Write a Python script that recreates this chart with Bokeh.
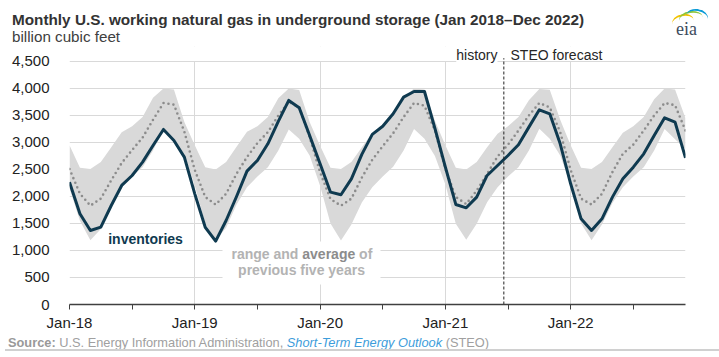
from bokeh.plotting import figure
from bokeh.layouts import column
from bokeh.models import Range1d, FixedTicker, NumeralTickFormatter, Label, BoxAnnotation, Div
from bokeh.embed import file_html
from bokeh.resources import INLINE

# month index: 0 = Jan-2018 ... 59 = Dec-2022
months = list(range(60))
tick_months = [0, 12, 24, 36, 48]
tick_labels = ["Jan-18", "Jan-19", "Jan-20", "Jan-21", "Jan-22"]
minor_months = [6, 18, 30, 42, 54]
y_ticks = [0, 500, 1000, 1500, 2000, 2500, 3000, 3500, 4000, 4500]
forecast_start = 41.6

inventories = [
    2265, 1679, 1370, 1432, 1833, 2204, 2389, 2636, 2944, 3241, 3037, 2728,
    2049, 1430, 1173, 1555, 2000, 2469, 2667, 2975, 3390, 3778, 3642, 3130,
    2605, 2080, 2031, 2327, 2780, 3150, 3300, 3531, 3840, 3944, 3944, 3260,
    2543, 1852, 1790, 1988, 2389, 2574, 2759, 2957, 3284, 3605, 3531, 2975,
    2235, 1586, 1370, 1586, 1988, 2327, 2543, 2790, 3130, 3457, 3377, 2716,
]
avg5 = [
    2510, 2050, 1830, 1960, 2300, 2620, 2860, 3090, 3420, 3730, 3700, 3200,
    2490, 1990, 1850, 2050, 2420, 2730, 2990, 3190, 3500, 3750, 3650, 3100,
    2450, 1950, 1830, 1960, 2350, 2680, 2930, 3170, 3470, 3730, 3680, 3220,
    2510, 1990, 1860, 2110, 2420, 2740, 2960, 3220, 3500, 3730, 3650, 3190,
    2490, 1960, 1850, 2050, 2450, 2790, 2960, 3220, 3500, 3730, 3690, 3220,
]
range_high = [
    2950, 2530, 2510, 2640, 2910, 3190, 3300, 3470, 3830, 4000, 3980, 3380,
    2950, 2540, 2500, 2640, 2920, 3200, 3300, 3470, 3820, 4000, 3970, 3380,
    2940, 2530, 2510, 2640, 2910, 3180, 3310, 3480, 3830, 4000, 3980, 3400,
    2950, 2530, 2500, 2640, 2910, 3160, 3300, 3470, 3780, 3990, 3975, 3420,
    2950, 2530, 2510, 2640, 2910, 3180, 3300, 3470, 3800, 4000, 3980, 3450,
]
range_low = [
    2150, 1550, 1190, 1400, 1800, 2180, 2380, 2540, 2850, 3240, 3060, 2780,
    2200, 1500, 1190, 1420, 1850, 2170, 2370, 2540, 2850, 3240, 3070, 2760,
    2200, 1500, 1185, 1480, 1890, 2170, 2370, 2550, 2850, 3250, 3070, 2750,
    2220, 1494, 1198, 1494, 1895, 2173, 2370, 2543, 2852, 3253, 3068, 2760,
    2220, 1500, 1190, 1480, 1880, 2170, 2370, 2540, 2850, 3250, 3060, 2880,
]

FONT = "Liberation Sans"
CSS_FONT = "'Liberation Sans', Arial, sans-serif"
NAVY = "#0f3a50"
Y_TOP = 4500 * 259 / 244   # head-room above the 4,500 grid line for the history/forecast labels

# ---------------- header (title, subtitle, logo) ----------------
header_html = f"""
<div style="position:relative;width:719px;height:45px;font-family:{CSS_FONT};">
  <div style="position:absolute;left:12px;top:11px;line-height:18px;font-size:15.3px;font-weight:bold;color:#333333;white-space:nowrap;">Monthly U.S. working natural gas in underground storage (Jan 2018&ndash;Dec 2022)</div>
  <div style="position:absolute;left:12px;top:28px;line-height:18px;font-size:15.2px;color:#404040;white-space:nowrap;">billion cubic feet</div>
  <div style="position:absolute;left:672px;top:14px;width:22px;height:16px;border-top:2.5px solid #f2c200;border-radius:50% 50% 0 0;transform:rotate(-12deg);"></div>
  <div style="position:absolute;left:679px;top:11px;width:24px;height:16px;border-top:2.5px solid #8cc63f;border-radius:50% 50% 0 0;transform:rotate(-8deg);"></div>
  <div style="position:absolute;left:686px;top:9px;width:22px;height:16px;border-top:2.5px solid #0a9bd7;border-radius:50% 50% 0 0;transform:rotate(10deg);"></div>
  <div style="position:absolute;left:676px;top:19px;line-height:20px;font-size:18px;font-family:'Liberation Serif',serif;color:#3d4b5c;">eia</div>
</div>
"""
header = Div(text=header_html, width=719, height=45, margin=0)

# ---------------- chart ----------------
p = figure(width=719, height=288, output_backend="svg", toolbar_location=None,
           x_range=Range1d(0, 59), y_range=Range1d(0, Y_TOP),
           min_border_left=69, min_border_right=34, min_border_top=1, min_border_bottom=28,
           margin=0)
p.title = None
p.outline_line_color = None
p.background_fill_color = "white"
p.border_fill_color = "white"

p.xaxis.ticker = FixedTicker(ticks=tick_months, minor_ticks=minor_months)
p.yaxis.ticker = FixedTicker(ticks=y_ticks)
p.xgrid.grid_line_color = "#d9d9d9"
p.ygrid.grid_line_color = "#d9d9d9"

# hide the grid above the top tick and behind the range text
p.add_layout(BoxAnnotation(bottom=max(y_ticks) + 10, top=Y_TOP, fill_color="white", fill_alpha=1,
                           line_color=None, level="underlay"))
p.add_layout(BoxAnnotation(left=153, right=311, bottom=20, top=63,
                           left_units="screen", right_units="screen",
                           bottom_units="screen", top_units="screen",
                           fill_color="white", fill_alpha=1, line_color=None,
                           level="underlay"))

p.xaxis.major_label_overrides = {m: lab for m, lab in zip(tick_months, tick_labels)}
p.xaxis.axis_line_color = "#404040"
p.xaxis.axis_line_width = 1.5
p.xaxis.major_tick_line_color = "#404040"
p.xaxis.minor_tick_line_color = "#404040"
p.xaxis.major_tick_in = 0
p.xaxis.major_tick_out = 5
p.xaxis.minor_tick_in = 0
p.xaxis.minor_tick_out = 5
p.xaxis.major_label_standoff = 4
p.xaxis.major_label_text_font = FONT
p.xaxis.major_label_text_font_size = "15px"
p.xaxis.major_label_text_color = "#222222"

p.yaxis.formatter = NumeralTickFormatter(format="0,0")
p.yaxis.axis_line_color = None
p.yaxis.major_tick_line_color = None
p.yaxis.minor_tick_line_color = None
p.yaxis.major_label_standoff = 14
p.yaxis.major_label_text_font = FONT
p.yaxis.major_label_text_font_size = "15px"
p.yaxis.major_label_text_color = "#222222"

p.varea(x=months, y1=range_low, y2=range_high, fill_color="#d9d9d9", fill_alpha=1)
p.line(months, avg5, line_color="#8c8c8c", line_width=2.6, line_dash="0 5", line_cap="round")
p.line(months, inventories, line_color=NAVY, line_width=3, line_join="round")

# history / forecast divider
p.segment(x0=[forecast_start], y0=[0], x1=[forecast_start], y1=[max(y_ticks) + 60],
          line_color="#222222", line_width=1, line_dash="3 2")


def lab(x, y, text, size="14px", style="normal", color="#333333", align="left",
        units="screen", **kw):
    p.add_layout(Label(x=x, y=y, x_units=units, y_units=units, text=text,
                       text_font=FONT, text_font_size=size, text_font_style=style,
                       text_color=color, text_align=align, text_baseline="middle", **kw))


lab(428, 250, "history", color="#262626", align="right", background_fill_color="white")
lab(441, 250, "STEO forecast", color="#262626")

lab(38.7, 66, "inventories", style="bold", color=NAVY)
lab(162, 50.3, "range and", style="bold", color="#b3b3b3")
lab(232.8, 50.3, "average", style="bold", color="#8c8c8c")
lab(289.6, 50.3, "of", style="bold", color="#b3b3b3")
lab(232, 34.3, "previous five years", style="bold", color="#b3b3b3", align="center")

# ---------------- footer (source) ----------------
footer_html = f"""
<div style="position:relative;width:719px;height:24px;font-family:{CSS_FONT};font-size:12.8px;">
  <div style="position:absolute;left:8px;top:2px;line-height:15px;white-space:nowrap;color:#a0a0a0;"><b style="color:#999999;">Source:</b> U.S. Energy Information Administration, <i style="color:#3d9ddb;">Short-Term Energy Outlook</i> (STEO)</div>
  <div style="position:absolute;left:5px;right:0px;top:16px;height:1.5px;background:#d0d0d0;"></div>
</div>
"""
footer = Div(text=footer_html, width=719, height=24, margin=0)

layout = column(header, p, footer, spacing=0, margin=0)

open("out.html", "w").write(file_html(layout, INLINE))
